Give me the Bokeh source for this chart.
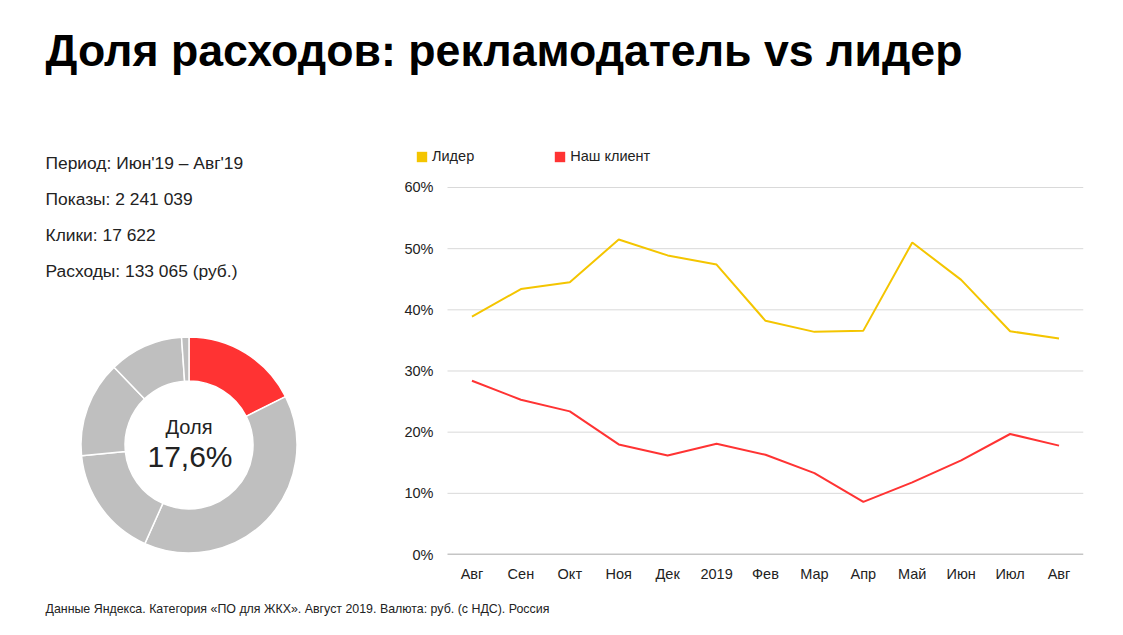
from bokeh.plotting import figure
from bokeh.layouts import column, row
from bokeh.models import (Range1d, FixedTicker, PrintfTickFormatter, Legend, LegendItem,
                          ColumnDataSource)
from bokeh.core.properties import value
from bokeh.embed import file_html
from bokeh.resources import INLINE
import math

# ---------------- data ----------------
title = "Доля расходов: рекламодатель vs лидер"
info_lines = ["Период: Июн'19 – Авг'19", "Показы: 2 241 039", "Клики: 17 622",
              "Расходы: 133 065 (руб.)"]
footer = "Данные Яндекса. Категория «ПО для ЖКХ». Август 2019. Валюта: руб. (с НДС). Россия"

months = ["Авг", "Сен", "Окт", "Ноя", "Дек", "2019", "Фев", "Мар", "Апр", "Май", "Июн", "Июл", "Авг"]
leader = [38.9, 43.4, 44.5, 51.5, 48.9, 47.4, 38.2, 36.4, 36.6, 51.0, 44.9, 36.5, 35.3]
client = [28.4, 25.3, 23.4, 18.0, 16.2, 18.1, 16.3, 13.3, 8.6, 11.8, 15.4, 19.7, 17.8]
series_names = ["Лидер", "Наш клиент"]
y_ticks = [0, 10, 20, 30, 40, 50, 60]

donut_shares = [17.6, 39.1, 16.7, 14.4, 11.1, 1.1]
donut_label = "Доля"
donut_value = "17,6%"

FONT = value("Liberation Sans")
YELLOW = "#F4C500"
RED = "#FF3333"
GRAY = "#BFBFBF"
TXT = "#222222"

# layout (px)
W_LEFT, W_CHART = 400, 715
H_TOP, H_MID, H_FOOT = 118, 470, 45
B_TOP, B_BOT, B_LEFT, B_RIGHT = 22, 34, 10, 32
FRAME_H = H_MID - B_TOP - B_BOT          # 414
PX_PER_PCT = 6.1167                       # 10% == 61.2 px
PX_PER_MONTH = 48.923
Y_END = FRAME_H / PX_PER_PCT
X_START = -0.5 - 37 / PX_PER_MONTH
X_END = len(months) - 0.5


def blank(w, h, **kw):
    f = figure(width=w, height=h, x_range=Range1d(0, w), y_range=Range1d(0, h - kw.get("bt", 0) - kw.get("bb", 0)),
               output_backend="svg", toolbar_location=None, title=None,
               min_border_left=0, min_border_right=0,
               min_border_top=kw.get("bt", 0), min_border_bottom=kw.get("bb", 0))
    f.axis.visible = False
    f.grid.visible = False
    f.outline_line_color = None
    return f


# ---------------- title ----------------
tf = blank(W_LEFT + W_CHART, H_TOP)
tf.text(x=[45], y=[68.5], text=[title], text_font=FONT, text_font_size="44.7px",
        text_font_style="bold", text_color="#000000", text_baseline="middle")

# ---------------- left panel (frame aligned with chart frame) ----------------
lf = blank(W_LEFT, H_MID, bt=B_TOP, bb=B_BOT)
info_y = [392, 356, 320, 284]
lf.text(x=[45] * len(info_lines), y=info_y, text=info_lines, text_font=FONT,
        text_font_size="17.4px", text_color=TXT, text_baseline="middle")

total = sum(donut_shares)
starts, ends, acc = [], [], 0.0
for s in donut_shares:
    starts.append(math.pi / 2 - 2 * math.pi * acc / total)
    acc += s
    ends.append(math.pi / 2 - 2 * math.pi * acc / total)
colors = [RED] + [GRAY] * (len(donut_shares) - 1)
dsrc = ColumnDataSource(dict(start=starts, end=ends, color=colors))
lf.annular_wedge(x=188.5, y=109.5, inner_radius=64, outer_radius=108,
                 start_angle="start", end_angle="end", direction="clock",
                 fill_color="color", line_color="white", line_width=1.5, source=dsrc)
lf.text(x=[188.5], y=[127.6], text=[donut_label], text_font=FONT, text_font_size="20px",
        text_color=TXT, text_align="center", text_baseline="middle")
lf.text(x=[189.5], y=[97.7], text=[donut_value], text_font=FONT, text_font_size="30px",
        text_color=TXT, text_align="center", text_baseline="middle")

# ---------------- line chart ----------------
cf = figure(width=W_CHART, height=H_MID, x_range=Range1d(X_START, X_END),
            y_range=Range1d(0, Y_END), output_backend="svg", toolbar_location=None, title=None,
            min_border_left=B_LEFT, min_border_right=B_RIGHT,
            min_border_top=B_TOP, min_border_bottom=B_BOT)
cf.outline_line_color = None
cf.xgrid.visible = False
cf.ygrid.visible = False
xs = list(range(len(months)))

# horizontal gridlines over the category band only
grid_vals = y_ticks[1:]
cf.segment(x0=[-0.5] * len(grid_vals), x1=[X_END] * len(grid_vals), y0=grid_vals, y1=grid_vals,
           line_color="#D9D9D9", line_width=1)
cf.segment(x0=[-0.5], x1=[X_END], y0=[0], y1=[0], line_color="#8C8C8C", line_width=1.5)

r1 = cf.line(xs, leader, line_color=YELLOW, line_width=2)
r2 = cf.line(xs, client, line_color=RED, line_width=2)

# square swatches for the legend
s1 = cf.quad(left=[0], right=[0], top=[0], bottom=[0], fill_color=YELLOW, line_color=None, visible=False)
s2 = cf.quad(left=[0], right=[0], top=[0], bottom=[0], fill_color=RED, line_color=None, visible=False)

cf.yaxis.ticker = FixedTicker(ticks=y_ticks)
cf.yaxis.formatter = PrintfTickFormatter(format="%d%%")
cf.yaxis.axis_line_color = None
cf.yaxis.major_label_standoff = -23
cf.xaxis.ticker = FixedTicker(ticks=xs)
cf.xaxis.major_label_overrides = {i: m for i, m in enumerate(months)}
cf.xaxis.axis_line_color = None
cf.xaxis.major_label_standoff = 11
for ax in (cf.xaxis[0], cf.yaxis[0]):
    ax.major_tick_line_color = None
    ax.minor_tick_line_color = None
    ax.major_tick_out = 0
    ax.major_tick_in = 0
    ax.minor_tick_out = 0
    ax.major_label_text_font = "Liberation Sans"
    ax.major_label_text_font_size = "14.5px"
    ax.major_label_text_color = TXT

legend = Legend(items=[LegendItem(label=series_names[0], renderers=[s1]),
                       LegendItem(label=series_names[1], renderers=[s2])],
                orientation="horizontal", location=(5, 390),
                padding=0, margin=0, spacing=79, label_standoff=4,
                glyph_width=13, glyph_height=13, label_height=13,
                border_line_alpha=0, background_fill_alpha=0,
                label_text_font="Liberation Sans", label_text_font_size="14.5px",
                label_text_color=TXT)
cf.add_layout(legend)

# ---------------- footer ----------------
ff = blank(W_LEFT + W_CHART, H_FOOT)
ff.text(x=[45], y=[24.5], text=[footer], text_font=FONT, text_font_size="12.4px",
        text_color=TXT, text_baseline="middle")

layout = column(tf, row(lf, cf), ff)
open("out.html", "w").write(file_html(layout, INLINE))
